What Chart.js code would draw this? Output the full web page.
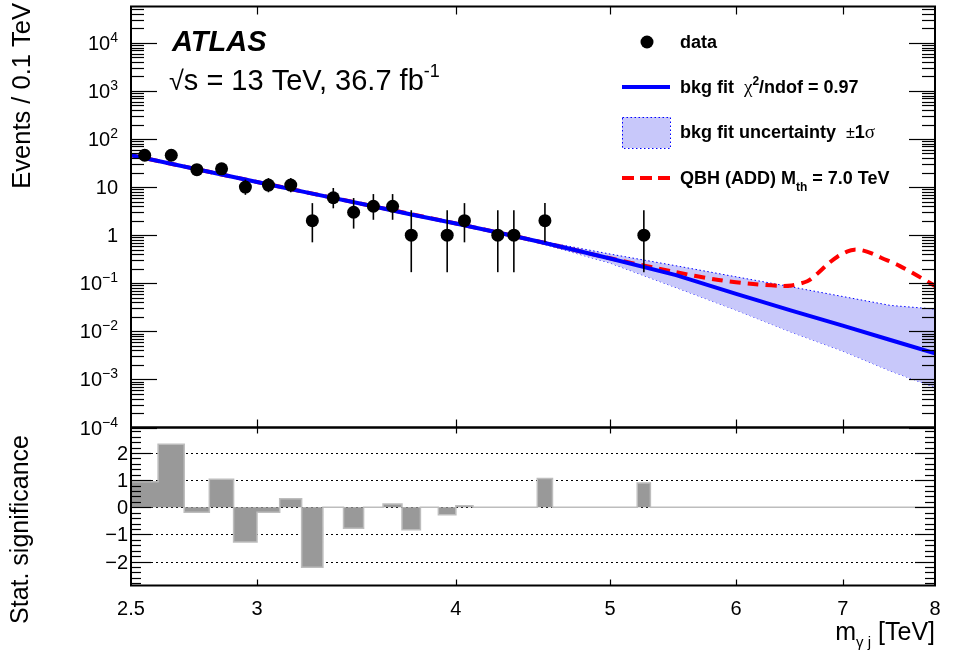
<!DOCTYPE html>
<html>
<head>
<meta charset="utf-8">
<script src="https://cdn.jsdelivr.net/npm/chart.js@4/dist/chart.umd.min.js"></script>
<style>
  html, body { margin: 0; padding: 0; background: #fff; }
  #wrap { position: relative; width: 959px; height: 655px; }
  #wrap canvas { position: absolute; left: 0; top: 0; }
</style>
</head>
<body>
<div id="wrap">
  <canvas id="mainChart" width="959" height="655"></canvas>
  <canvas id="sigChart" width="959" height="655"></canvas>
</div>
<script>
// data points (bin centres, TeV) with asymmetric poisson errors
const dataMass = [2.55, 2.65, 2.75, 2.85, 2.95, 3.05, 3.15, 3.25, 3.35, 3.45, 3.55, 3.65, 3.75, 3.95, 4.05, 4.25, 4.35, 4.55, 5.25];
const dataEvents = [46, 46, 23, 24, 10, 11, 11, 2, 6, 3, 4, 4, 1, 1, 2, 1, 1, 2, 1];
const dataLow = [39.3, 39.3, 18.2, 19.1, 6.9, 7.8, 7.8, 0.71, 3.62, 1.37, 2.09, 2.09, 0.17, 0.17, 0.71, 0.17, 0.17, 0.71, 0.17];
const dataHigh = [53.8, 53.8, 28.4, 29.5, 14.3, 15.4, 15.4, 4.64, 9.58, 5.92, 7.16, 7.16, 3.3, 3.3, 4.64, 3.3, 3.3, 4.64, 3.3];

// background fit
const fitMass = [2.5, 2.75, 3.0, 3.25, 3.5, 3.75, 4.0, 4.25, 4.5, 4.75, 5.0, 5.5, 6.0, 6.5, 7.0, 7.5, 8.0];
const fitEvents = [46, 23.5, 12.8, 7.3, 4.4, 2.7, 1.75, 1.14, 0.75, 0.49, 0.327, 0.148, 0.06, 0.027, 0.0131, 0.0066, 0.0035];

// fit uncertainty band
const bandMass = [2.5, 3.0, 3.5, 4.0, 4.5, 5.0, 5.5, 6.0, 6.5, 7.0, 7.5, 8.0];
const bandUp = [46.5, 12.9, 4.45, 1.82, 0.78, 0.405, 0.231, 0.136, 0.084, 0.053, 0.0346, 0.029];
const bandDown = [45.5, 12.7, 4.35, 1.7, 0.71, 0.263, 0.0814, 0.0276, 0.0096, 0.0039, 0.0015, 0.00068];

// QBH signal + background
const qbhMass = [2.5, 3.0, 3.5, 4.0, 4.5, 5.0, 5.5, 5.85, 6.15, 6.4, 6.5, 6.65, 6.75, 6.85, 6.95, 7.05, 7.12, 7.2, 7.3, 7.4, 7.6, 7.8, 8.0];
const qbhEvents = [46, 12.8, 4.4, 1.75, 0.75, 0.33, 0.17, 0.117, 0.096, 0.088, 0.09, 0.11, 0.16, 0.25, 0.36, 0.46, 0.5, 0.485, 0.42, 0.34, 0.23, 0.143, 0.088];

// significance per 0.1 TeV bin (left edges)
const sigEdges = [2.5, 2.6, 2.7, 2.8, 2.9, 3.0, 3.1, 3.2, 3.3, 3.4, 3.5, 3.6, 3.7, 3.8, 3.9, 4.0, 4.1, 4.2, 4.3, 4.4,
  4.5, 4.6, 4.7, 4.8, 4.9, 5.0, 5.1, 5.2, 5.3, 5.4, 5.5, 5.6, 5.7, 5.8, 5.9, 6.0, 6.1, 6.2, 6.3, 6.4,
  6.5, 6.6, 6.7, 6.8, 6.9, 7.0, 7.1, 7.2, 7.3, 7.4, 7.5, 7.6, 7.7, 7.8, 7.9, 8.0];
const sigValues = [0.94, 2.32, -0.18, 1.03, -1.28, -0.18, 0.32, -2.21, 0, -0.77, 0, 0.12, -0.83, 0, -0.27, 0.06, 0, 0, 0, 0,
  1.06, 0, 0, 0, 0, 0, 0, 0.9, 0, 0, 0, 0, 0, 0, 0, 0, 0, 0, 0, 0,
  0, 0, 0, 0, 0, 0, 0, 0, 0, 0, 0, 0, 0, 0, 0];

// ticks
const xTickValues = [2.5, 3, 4, 5, 6, 7, 8];
const xTickLabels = ["2.5", "3", "4", "5", "6", "7", "8"];
const yTickExps = [4, 3, 2, 1, 0, -1, -2, -3, -4];
const sigTickValues = [2, 1, 0, -1, -2];
const sigTickLabels = ["2", "1", "0", "\u22121", "\u22122"];

const FONT = '"Liberation Sans", Arial, Helvetica, sans-serif';
const BAND_FILL = "rgb(200,200,250)";

function pts(xs, ys) {
  return xs.map((x, i) => ({ x: x, y: ys[i] }));
}

function drawRuns(ctx, x, y, runs, align) {
  let total = 0;
  runs.forEach((r) => { ctx.font = r[1]; total += ctx.measureText(r[0]).width; });
  let cx = align === "right" ? x - total : x;
  ctx.textAlign = "left";
  ctx.textBaseline = "alphabetic";
  runs.forEach((r) => {
    ctx.font = r[1];
    ctx.fillText(r[0], cx, y + (r[2] || 0));
    cx += ctx.measureText(r[0]).width;
  });
}

function hLine(ctx, x1, x2, y) {
  ctx.beginPath(); ctx.moveTo(x1, y); ctx.lineTo(x2, y); ctx.stroke();
}
function vLine(ctx, x, y1, y2) {
  ctx.beginPath(); ctx.moveTo(x, y1); ctx.lineTo(x, y2); ctx.stroke();
}

// error bars under the markers
const errorBars = {
  id: "errorBars",
  beforeDatasetDraw(chart, args) {
    if (args.index !== 0) return;
    const ctx = chart.ctx, xs = chart.scales.x, ys = chart.scales.y;
    ctx.save();
    ctx.strokeStyle = "#000";
    ctx.lineWidth = 1.6;
    dataMass.forEach((m, i) => {
      const px = xs.getPixelForValue(m);
      vLine(ctx, px, ys.getPixelForValue(dataHigh[i]), ys.getPixelForValue(dataLow[i]));
    });
    ctx.restore();
  }
};

// ROOT-like frame, ticks, labels and legend for the upper pad
const topDecor = {
  id: "topDecor",
  afterDraw(chart) {
    const ctx = chart.ctx, a = chart.chartArea;
    const xs = chart.scales.x, ys = chart.scales.y;
    ctx.save();
    ctx.strokeStyle = "#000";

    // y ticks, both sides
    ctx.lineWidth = 1.2;
    for (let k = -4; k <= 4; k++) {
      for (let m = 1; m <= 9; m++) {
        const v = m * Math.pow(10, k);
        if (v > ys.max) continue;
        const py = Math.round(ys.getPixelForValue(v)) + 0.5;
        const len = m === 1 ? 26 : 13;
        hLine(ctx, a.left, a.left + len, py);
        hLine(ctx, a.right - len, a.right, py);
      }
    }
    // x ticks
    xTickValues.slice(1, -1).forEach((v) => {
      const px = Math.round(xs.getPixelForValue(v)) + 0.5;
      vLine(ctx, px, a.top, a.top + 8);
      vLine(ctx, px, a.bottom - 8, a.bottom);
    });

    // frame
    ctx.lineWidth = 2;
    ctx.strokeRect(a.left, a.top, a.right - a.left, a.bottom - a.top);

    // y labels
    ctx.fillStyle = "#000";
    yTickExps.forEach((e) => {
      const py = ys.getPixelForValue(Math.pow(10, e));
      if (e === 0) {
        drawRuns(ctx, 118, py + 7, [["1", "20px " + FONT]], "right");
      } else if (e === 1) {
        drawRuns(ctx, 118, py + 7, [["10", "20px " + FONT]], "right");
      } else {
        const ex = e < 0 ? "\u2212" + (-e) : String(e);
        drawRuns(ctx, 118, py + 7, [["10", "20px " + FONT], [ex, "14px " + FONT, -8]], "right");
      }
    });

    // axis title
    ctx.save();
    ctx.translate(30, 3);
    ctx.rotate(-Math.PI / 2);
    ctx.font = "25.5px " + FONT;
    ctx.textAlign = "right";
    ctx.textBaseline = "alphabetic";
    ctx.fillText("Events / 0.1 TeV", 0, 0);
    ctx.restore();

    // ATLAS label
    drawRuns(ctx, 172, 51, [["ATLAS", "bold italic 29px " + FONT]]);
    drawRuns(ctx, 169, 90, [["\u221A", "27px " + FONT], ["s = 13 TeV, 36.7 fb", "29px " + FONT], ["-1", "18px " + FONT, -13]]);

    // legend
    const lx1 = 622, lx2 = 670, tx = 680;
    const lb = "bold 18px " + FONT;
    ctx.fillStyle = "#000";
    ctx.beginPath(); ctx.arc(647, 42, 6.5, 0, Math.PI * 2); ctx.fill();
    drawRuns(ctx, tx, 48, [["data", lb]]);

    ctx.strokeStyle = "#0000ff"; ctx.lineWidth = 4;
    hLine(ctx, lx1, lx2, 87);
    drawRuns(ctx, tx, 93, [["bkg fit  ", lb], ["\u03C7", "19px \"Liberation Serif\", serif"], ["2", "bold 12px " + FONT, -8], ["/ndof = 0.97", lb]]);

    ctx.fillStyle = BAND_FILL;
    ctx.fillRect(lx1, 117, lx2 - lx1, 31);
    ctx.strokeStyle = "#0000ff"; ctx.lineWidth = 1; ctx.setLineDash([1.5, 2.5]);
    ctx.strokeRect(lx1 + 0.5, 117.5, lx2 - lx1, 31);
    ctx.setLineDash([]);
    ctx.fillStyle = "#000";
    drawRuns(ctx, tx, 138, [["bkg fit uncertainty  ", lb], ["\u00B1", "16px " + FONT], ["1", lb], ["\u03C3", "19px \"Liberation Serif\", serif"]]);

    ctx.strokeStyle = "#ff0000"; ctx.lineWidth = 4; ctx.setLineDash([12, 6]);
    hLine(ctx, lx1, lx2, 178);
    ctx.setLineDash([]);
    drawRuns(ctx, tx, 184, [["QBH (ADD) M", lb], ["th", "bold 12px " + FONT, 7], [" = 7.0 TeV", lb]]);

    ctx.restore();
  }
};

const sigDecor = {
  id: "sigDecor",
  beforeDatasetsDraw(chart) {
    const ctx = chart.ctx, a = chart.chartArea, ys = chart.scales.y;
    ctx.save();
    ctx.strokeStyle = "#000";
    ctx.lineWidth = 1;
    ctx.setLineDash([2, 3]);
    sigTickValues.forEach((v) => {
      const py = Math.round(ys.getPixelForValue(v)) + 0.5;
      hLine(ctx, a.left, a.right, py);
    });
    ctx.restore();
  },
  afterDraw(chart) {
    const ctx = chart.ctx, a = chart.chartArea;
    const xs = chart.scales.x, ys = chart.scales.y;
    ctx.save();
    ctx.strokeStyle = "#000";
    ctx.lineWidth = 1.2;
    for (let i = -14; i <= 14; i++) {
      const v = i / 5;
      if (v < ys.min || v > ys.max) continue;
      const py = Math.round(ys.getPixelForValue(v)) + 0.5;
      const len = i % 5 === 0 ? 20 : 10;
      hLine(ctx, a.left, a.left + len, py);
      hLine(ctx, a.right - len, a.right, py);
    }
    xTickValues.slice(1, -1).forEach((v) => {
      const px = Math.round(xs.getPixelForValue(v)) + 0.5;
      vLine(ctx, px, a.top, a.top + 6);
      vLine(ctx, px, a.bottom - 6, a.bottom);
    });
    ctx.lineWidth = 2;
    ctx.strokeRect(a.left, a.top, a.right - a.left, a.bottom - a.top);

    ctx.fillStyle = "#000";
    sigTickValues.forEach((v, i) => {
      drawRuns(ctx, 128, ys.getPixelForValue(v) + 7, [[sigTickLabels[i], "20px " + FONT]], "right");
    });
    ctx.textAlign = "center";
    ctx.font = "20px " + FONT;
    xTickValues.forEach((v, i) => {
      ctx.fillText(xTickLabels[i], xs.getPixelForValue(v), 615);
    });

    drawRuns(ctx, 935, 640, [["m", "25px " + FONT], ["\u03B3 j", "15px " + FONT, 7], [" [TeV]", "25px " + FONT]], "right");

    ctx.save();
    ctx.translate(28, 435);
    ctx.rotate(-Math.PI / 2);
    ctx.font = "25px " + FONT;
    ctx.textAlign = "right";
    ctx.textBaseline = "alphabetic";
    ctx.fillText("Stat. significance", 0, 0);
    ctx.restore();
    ctx.restore();
  }
};

const hiddenLog = (min, max) => ({ type: "logarithmic", min: min, max: max, display: false });

new Chart(document.getElementById("mainChart"), {
  type: "line",
  data: {
    datasets: [
      {
        label: "data",
        data: pts(dataMass, dataEvents),
        showLine: false,
        pointRadius: 6.5,
        pointBackgroundColor: "#000",
        pointBorderWidth: 0,
        clip: 0
      },
      {
        label: "bkg fit",
        data: pts(fitMass, fitEvents),
        borderColor: "#0000ff",
        borderWidth: 4,
        pointRadius: 0,
        fill: false,
        clip: 0
      },
      {
        label: "QBH (ADD) Mth = 7.0 TeV",
        data: pts(qbhMass, qbhEvents),
        borderColor: "#ff0000",
        borderWidth: 4,
        borderDash: [11, 7],
        tension: 0.3,
        pointRadius: 0,
        fill: false,
        clip: 0
      },
      {
        label: "bkg fit uncertainty",
        data: pts(bandMass, bandUp),
        borderColor: "#0000ff",
        borderWidth: 1,
        borderDash: [1.5, 2.5],
        backgroundColor: BAND_FILL,
        pointRadius: 0,
        fill: "+1",
        clip: 0
      },
      {
        label: "bkg fit uncertainty low",
        data: pts(bandMass, bandDown),
        borderColor: "#0000ff",
        borderWidth: 1,
        borderDash: [1.5, 2.5],
        pointRadius: 0,
        fill: false,
        clip: 0
      }
    ]
  },
  options: {
    responsive: false,
    animation: false,
    devicePixelRatio: 1,
    events: [],
    layout: { padding: { left: 131, right: 24, top: 6, bottom: 227.5 } },
    plugins: { legend: { display: false }, tooltip: { enabled: false } },
    scales: {
      x: hiddenLog(2.5, 8),
      y: hiddenLog(1e-4, 5.7e4)
    }
  },
  plugins: [errorBars, topDecor]
});

new Chart(document.getElementById("sigChart"), {
  type: "line",
  data: {
    datasets: [
      {
        label: "Stat. significance",
        data: pts(sigEdges, sigValues.concat([sigValues[sigValues.length - 1]])),
        stepped: "before",
        fill: "origin",
        backgroundColor: "#999999",
        borderColor: "#bdbdbd",
        borderWidth: 1.5,
        pointRadius: 0,
        clip: 0
      }
    ]
  },
  options: {
    responsive: false,
    animation: false,
    devicePixelRatio: 1,
    events: [],
    layout: { padding: { left: 131, right: 24, top: 427.5, bottom: 69.5 } },
    plugins: { legend: { display: false }, tooltip: { enabled: false } },
    scales: {
      x: hiddenLog(2.5, 8),
      y: { type: "linear", min: -2.88, max: 2.94, display: false }
    }
  },
  plugins: [sigDecor]
});
</script>
</body>
</html>
